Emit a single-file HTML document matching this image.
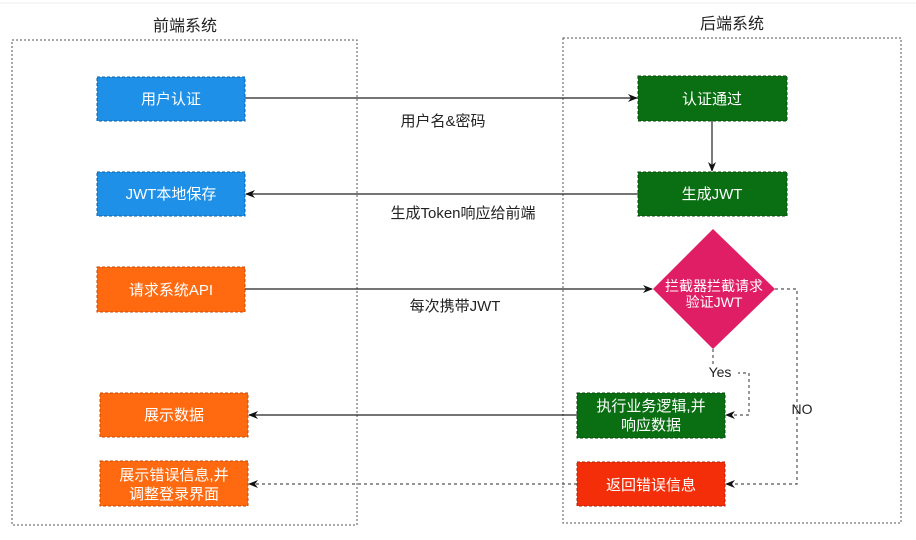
<!DOCTYPE html>
<html><head><meta charset="utf-8"><style>
html,body{margin:0;padding:0;background:#fff;}
svg{display:block;}
text{font-family:"Liberation Sans","Noto Sans CJK SC",sans-serif;}
</style></head><body>
<svg width="916" height="540" viewBox="0 0 916 540" xmlns="http://www.w3.org/2000/svg">
<defs>
<marker id="a" markerWidth="10" markerHeight="10" refX="9" refY="5" orient="auto" markerUnits="userSpaceOnUse"><path d="M0,1 L10,5 L0,9 L3,5 z" fill="#111"/></marker>
</defs>
<line x1="0" y1="3" x2="916" y2="3" stroke="#eee"/>
<text x="185" y="31" font-size="16" text-anchor="middle" fill="#222">前端系统</text>
<text x="732" y="29" font-size="16" text-anchor="middle" fill="#222">后端系统</text>
<rect x="12" y="40" width="345" height="485" fill="none" stroke="#555" stroke-dasharray="2,2"/>
<rect x="563" y="38" width="338" height="485" fill="none" stroke="#555" stroke-dasharray="2,2"/>
<g stroke-dasharray="3,2" stroke-width="1">
<rect x="97" y="77" width="148" height="44" fill="#1e90e8" stroke="#0a5fa8"/>
<rect x="97" y="172" width="148" height="44" fill="#1e90e8" stroke="#0a5fa8"/>
<rect x="97" y="267" width="148" height="45" fill="#ff6a10" stroke="#c84800"/>
<rect x="100" y="393" width="148" height="44" fill="#ff6a10" stroke="#c84800"/>
<rect x="100" y="461" width="148" height="45" fill="#ff6a10" stroke="#c84800"/>
<rect x="638" y="76" width="149" height="45" fill="#0a6e12" stroke="#064a0a"/>
<rect x="638" y="172" width="149" height="44" fill="#0a6e12" stroke="#064a0a"/>
<rect x="577" y="393" width="148" height="45" fill="#0a6e12" stroke="#064a0a"/>
<rect x="577" y="462" width="148" height="44" fill="#f52e0a" stroke="#b02000"/>
</g>
<path d="M713,229 L775,289 L713,349 L653,289 z" fill="#e01e66"/>
<g fill="#fff" font-size="15" text-anchor="middle">
<text x="171" y="104">用户认证</text>
<text x="171" y="199">JWT本地保存</text>
<text x="171" y="295">请求系统API</text>
<text x="174" y="420">展示数据</text>
<text x="174" y="480">展示错误信息,并</text>
<text x="174" y="499">调整登录界面</text>
<text x="712" y="104">认证通过</text>
<text x="712" y="199">生成JWT</text>
<text x="651" y="411">执行业务逻辑,并</text>
<text x="651" y="430">响应数据</text>
<text x="651" y="490">返回错误信息</text>
<text x="714" y="291" font-size="14">拦截器拦截请求</text>
<text x="714" y="307" font-size="14">验证JWT</text>
</g>
<g stroke="#222" stroke-width="1.2" fill="none">
<line x1="245" y1="98" x2="637" y2="98" marker-end="url(#a)"/>
<line x1="712" y1="121" x2="712" y2="171" marker-end="url(#a)"/>
<line x1="638" y1="194" x2="246" y2="194" marker-end="url(#a)"/>
<line x1="245" y1="289" x2="652" y2="289" marker-end="url(#a)"/>
<line x1="577" y1="415" x2="249" y2="415" marker-end="url(#a)"/>
</g>
<g stroke="#555" stroke-width="1.2" fill="none" stroke-dasharray="3,3">
<line x1="577" y1="484" x2="249" y2="484" marker-end="url(#a)"/>
<polyline points="713,349 713,373 749,373 749,415 726,415" marker-end="url(#a)"/>
<polyline points="775,289 797,289 797,484 726,484" marker-end="url(#a)"/>
</g>
<rect x="704" y="364" width="34" height="16" fill="#fff"/>
<g fill="#222" font-size="15" text-anchor="middle">
<text x="443" y="126">用户名&amp;密码</text>
<text x="463" y="218">生成Token响应给前端</text>
<text x="455" y="311">每次携带JWT</text>
<text x="720" y="377" font-size="14">Yes</text>
<text x="802" y="414" font-size="14">NO</text>
</g>
</svg>
</body></html>
